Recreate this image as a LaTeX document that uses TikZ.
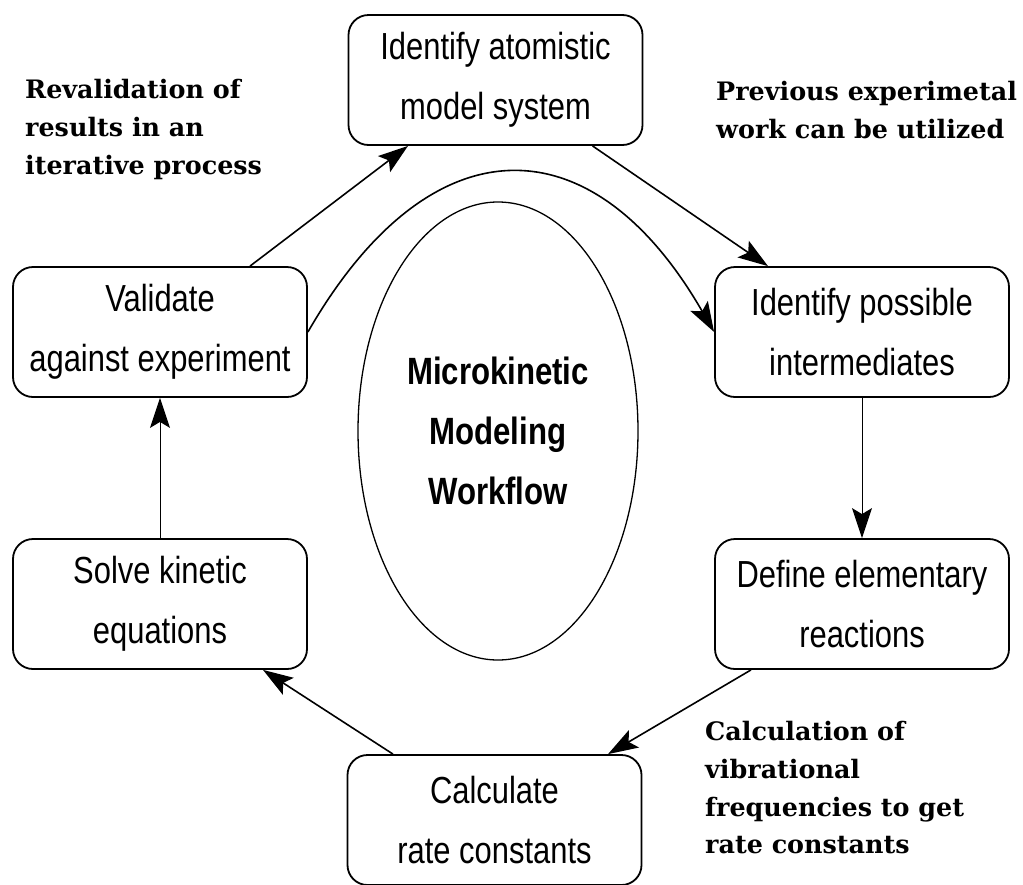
\documentclass[tikz,border=0pt]{standalone}
\usepackage{fontspec}
\usetikzlibrary{arrows.meta,shapes.geometric}
\newfontfamily\stagefont[FakeStretch=0.82]{Liberation Sans}
\newfontfamily\remarkfont{DejaVu Serif}
\tikzset{stage/.style={draw, line width=1.8pt, rounded corners=20pt, minimum width=294pt, minimum height=130pt, inner sep=0pt, align=center, font=\stagefont\fontsize{37.7}{60}\selectfont}}
\tikzset{hub/.style={draw, ellipse, line width=1.3pt, minimum width=280pt, minimum height=458pt, inner sep=0pt, align=center, font=\stagefont\bfseries\fontsize{38}{60}\selectfont}}
\tikzset{flow/.style={line width=1.6pt, -{Stealth[length=30pt,width=20pt,inset=6pt]}}}
\tikzset{thinflow/.style={flow, line width=1pt}}
\tikzset{remark/.style={anchor=north west, inner sep=0pt, align=left, font=\remarkfont\bfseries\fontsize{25.4}{37.8}\selectfont}}

\begin{document}
\begin{tikzpicture}[x=1pt,y=-1pt]
\useasboundingbox (0,0) rectangle (1023,884);
% workflow steps
\node[stage] (atom) at (495.5,80) {Identify atomistic\\model system};
\node[stage] (inter) at (862,332) {Identify possible\\intermediates};
\node[stage] (elem) at (862,604) {Define elementary\\reactions};
\node[stage] (rate) at (494.5,820) {Calculate\\rate constants};
\node[stage] (solve) at (160,604) {Solve kinetic\\equations};
\node[stage] (valid) at (160,332) {Validate\\against experiment};
\node[hub] (core) at (498,431) {Microkinetic\\Modeling\\Workflow};
% side remarks
\node[remark] (revnote) at (25,79) {Revalidation of\\results in an\\iterative process};
\node[remark] (expnote) at (716,81) {Previous experimetal\\work can be utilized};
\node[remark] (vibnote) at (705,721) {Calculation of\\vibrational\\frequencies to get\\rate constants};
% connectors
\draw[flow] ([xshift=90pt]valid.north) -- ([xshift=-87.5pt]atom.south);
\draw[flow] ([xshift=97pt]atom.south) -- ([xshift=-94pt]inter.north);
\draw[flow] (valid.east) .. controls +(122,-212) and +(-122,-212) .. (inter.west);
\draw[thinflow] (inter.south) -- (elem.north);
\draw[flow] ([xshift=-111pt]elem.south) -- ([xshift=113.5pt]rate.north);
\draw[flow] ([xshift=-101.5pt]rate.north) -- ([xshift=103pt]solve.south);
\draw[thinflow] (solve.north) -- (valid.south);
\end{tikzpicture}
\end{document}
